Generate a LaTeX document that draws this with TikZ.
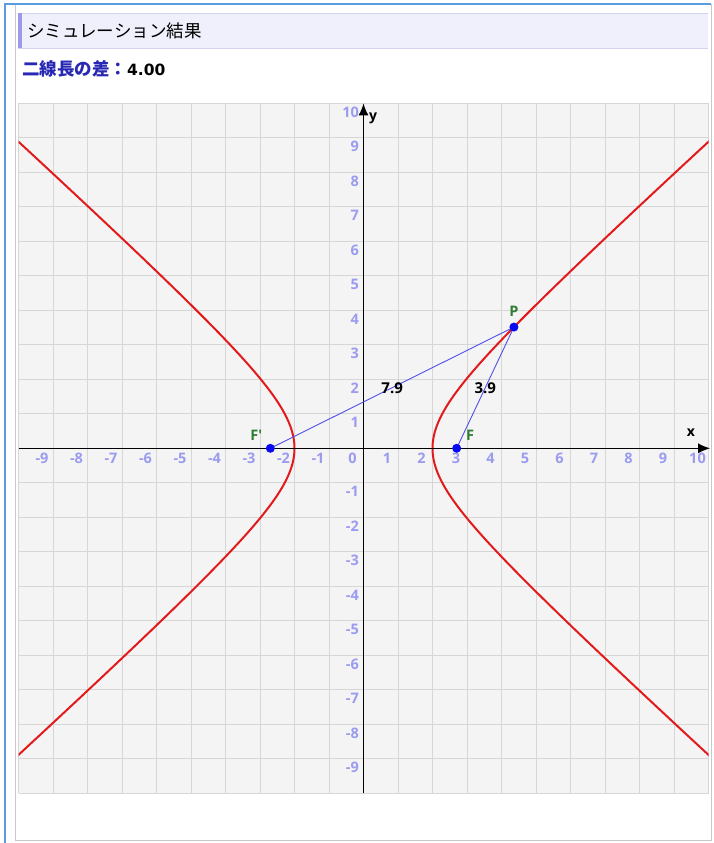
\documentclass[tikz,border=0pt]{standalone}
\usepackage{fontspec}
\setmainfont{Open Sans}
\newfontfamily\jpfont{Noto Sans CJK JP}
\newfontfamily\numfont{DejaVu Sans}
\usetikzlibrary{arrows.meta}
\definecolor{frameblue}{HTML}{5B9BE0}
\definecolor{panelgray}{HTML}{C8C8C8}
\definecolor{titlefill}{HTML}{F0F0FC}
\definecolor{titleline}{HTML}{D4D4F0}
\definecolor{accent}{HTML}{9A9AE8}
\definecolor{headblue}{HTML}{2828B4}
\definecolor{gridbg}{HTML}{F4F4F4}
\definecolor{gridline}{HTML}{D6D6D6}
\definecolor{ticklbl}{HTML}{9B9BEF}
\definecolor{curvered}{HTML}{E31A1C}
\definecolor{segblue}{HTML}{5050E8}
\definecolor{ptblue}{HTML}{0A0AF0}
\definecolor{ptgreen}{HTML}{2E7D32}
\tikzset{
  ticklabel/.style={text=ticklbl, font=\fontsize{14.5}{16}\selectfont\bfseries, inner sep=0pt},
  ptdot/.style={circle, fill=ptblue, minimum size=9pt, inner sep=0pt},
  ptlabel/.style={text=ptgreen, font=\fontsize{14.5}{16}\selectfont\bfseries, inner sep=0pt},
  distlabel/.style={text=black, font=\fontsize{15}{17}\selectfont\bfseries, inner sep=0pt},
  axislabel/.style={text=black, font=\fontsize{14}{16}\selectfont\bfseries, inner sep=0pt},
  segment/.style={segblue, line width=0.9pt},
  branch/.style={curvered, line width=2pt, samples=150, variable=\t},
  gridrule/.style={gridline, line width=0.9pt},
  axisline/.style={black, line width=1.6pt, -{Latex[length=12pt,width=10pt]}}
}
\begin{document}
\begin{tikzpicture}[x=1pt,y=-1pt]
\useasboundingbox (0,0) rectangle (714,843);
\fill[white] (0,0) rectangle (714,843);
% panel
\draw[panelgray, line width=1pt] (15,5) rectangle (711,840);
\draw[frameblue, line width=2pt] (5,843) -- (5,4.5) -- (711,4.5);
% title bar
\fill[titlefill] (18,13) rectangle (708,48.5);
\draw[titleline, line width=0.8pt] (18,13) -- (708,13) (18,48.5) -- (708,48.5);
\fill[accent] (18,13) rectangle (21.5,48.5);
\node[anchor=west, inner sep=0pt, font=\jpfont\fontsize{17.5}{20}\selectfont] (title) at (27,30.5) {シミュレーション結果};
\node[anchor=west, inner sep=0pt] (diff) at (22,69) {{\jpfont\bfseries\fontsize{17.5}{20}\selectfont\color{headblue}二線長の差：}{\numfont\bfseries\fontsize{15.5}{18}\selectfont 4.00}};
% plot
\begin{scope}[shift={(363.5,448.3)}, x=34.5pt, y=34.5pt]
  \fill[gridbg] (-10,-10) rectangle (10,10);
  \foreach \g in {-10,...,10} {
    \draw[gridrule] (\g,-10) -- (\g,10);
    \draw[gridrule] (-10,\g) -- (10,\g);
  }
  \begin{scope}
    \clip (-10,-10) rectangle (10,10);
    \draw[branch, domain=-2.7:2.7] plot ({2*cosh(\t)},{1.814*sinh(\t)});
    \draw[branch, domain=-2.7:2.7] plot ({-2*cosh(\t)},{1.814*sinh(\t)});
  \end{scope}
  % axes
  \coordinate (xl) at (-10,0);
  \coordinate (xr) at (10.05,0);
  \coordinate (yb) at (0,-10);
  \coordinate (yt) at (0,10);
  \draw[axisline] (xl) -- (xr);
  \draw[axisline] (yb) -- (yt);
  % tick labels
  \foreach \k in {-9,...,10} {
    \node[ticklabel] (xt\k) at ([xshift=-11pt,yshift=-10pt]\k,0) {\k};
  }
  \foreach \k in {-9,...,-1,1,2,...,10} {
    \node[ticklabel, anchor=east] (yt\k) at ([xshift=-4.5pt,yshift=-9pt]0,\k) {\k};
  }
  \node[axislabel] (xname) at (9.49,0.45) {x};
  \node[axislabel] (yname) at (0.28,9.57) {y};
  % points and segments
  \coordinate (F) at (2.7,0);
  \coordinate (Fp) at (-2.7,0);
  \coordinate (P) at (4.36,3.514);
  \draw[segment] (Fp) -- (P) node[midway, distlabel] (d1) {7.9};
  \draw[segment] (F) -- (P) node[midway, distlabel] (d2) {3.9};
  \node[ptdot] (Fdot) at (F) {};
  \node[ptdot] (Fpdot) at (Fp) {};
  \node[ptdot] (Pdot) at (P) {};
  \node[ptlabel] (Plbl) at ([yshift=16pt]P) {P};
  \node[ptlabel] (Flbl) at ([xshift=13.5pt,yshift=13pt]F) {F};
  \node[ptlabel] (Fplbl) at ([xshift=-14pt,yshift=13pt]Fp) {F\textquotesingle};
\end{scope}
\end{tikzpicture}
\end{document}
